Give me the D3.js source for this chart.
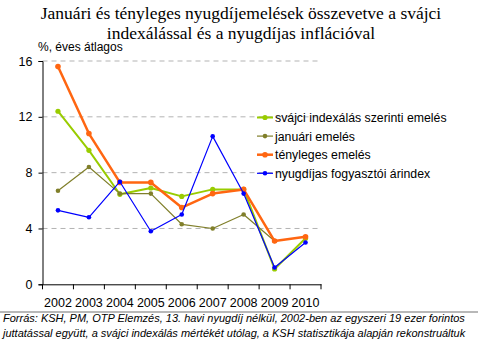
<!DOCTYPE html>
<html><head><meta charset="utf-8">
<script src="https://cdnjs.cloudflare.com/ajax/libs/d3/7.8.5/d3.min.js"></script>
<style>body{margin:0;background:#fff}svg{display:block}</style>
</head><body><svg id="c" width="478" height="355"></svg>
<script>
const years = ["2002","2003","2004","2005","2006","2007","2008","2009","2010"];
const svajci = [12.4, 9.6, 6.45, 6.9, 6.3, 6.8, 6.8, 1.1, 3.3];
const januari = [6.7, 8.4, 6.5, 6.5, 4.3, 4.0, 5.0, 3.1, null];
const tenyleges = [15.6, 10.8, 7.3, 7.3, 5.5, 6.5, 6.8, 3.1, 3.4];
const fogyasztoi = [5.3, 4.8, 7.35, 3.8, 5.0, 10.6, 6.5, 1.2, 3.0];
const yTicks = [0, 4, 8, 12, 16];
const seriesNames = ["svájci indexálás szerinti emelés","januári emelés","tényleges emelés","nyugdíjas fogyasztói árindex"];

const series = [
  {name: seriesNames[0], values: svajci, color: "#99cc00", w: 2, r: 2.6},
  {name: seriesNames[1], values: januari, color: "#807f2a", w: 1.2, r: 2.3},
  {name: seriesNames[2], values: tenyleges, color: "#ff6611", w: 2.5, r: 2.8},
  {name: seriesNames[3], values: fogyasztoi, color: "#0000ff", w: 1.2, r: 2.3}
];

const svg = d3.select("#c");
const pLeft = 42.5, pRight = 321, pTop = 61, pBottom = 284.3;
const x = d3.scaleBand().domain(years).range([pLeft, pRight]);
const y = d3.scaleLinear().domain([0, 16]).range([pBottom, pTop]);

// title
const title = svg.append("text").attr("text-anchor","middle")
  .style("font-family","'Liberation Serif','Times New Roman',serif").style("font-size","17.5px").attr("fill","#000");
title.append("tspan").attr("x",241).attr("y",19).text("Januári és tényleges nyugdíjemelések összevetve a svájci");
title.append("tspan").attr("x",241).attr("y",39).text("indexálással és a nyugdíjas inflációval");

svg.append("text").attr("x",38).attr("y",51).style("font-family","Arial,'Liberation Sans',sans-serif")
  .style("font-size","12px").text("%, éves átlagos");

// grid
svg.append("g").selectAll("line").data(yTicks.filter(d=>d>0)).join("line")
  .attr("x1", pLeft).attr("x2", pRight).attr("y1", d=>y(d)).attr("y2", d=>y(d))
  .attr("stroke","#b3b3b3").attr("stroke-dasharray","5,4").attr("stroke-width",1);

// y axis
const ya = svg.append("g").attr("transform",`translate(${pLeft},0)`)
  .call(d3.axisLeft(y).tickValues(yTicks).tickSize(4).tickFormat(d3.format("d")));
ya.select(".domain").attr("stroke","#000");
ya.selectAll("text").style("font-family","Arial,'Liberation Sans',sans-serif").style("font-size","12.5px").attr("x",-10);

// x axis
const xa = svg.append("g").attr("transform",`translate(0,${pBottom})`)
  .call(d3.axisBottom(x).tickSize(0).tickSizeOuter(0));
xa.select(".domain").attr("stroke","#000");
xa.selectAll("text").style("font-family","Arial,'Liberation Sans',sans-serif").style("font-size","12.5px").attr("y",14);
xa.selectAll(".bt").data(years.concat(["end"])).join("line")
  .attr("x1",(d,i)=> i<years.length ? x(d) : pRight).attr("x2",(d,i)=> i<years.length ? x(d) : pRight)
  .attr("y1",0).attr("y2",5).attr("stroke","#000");

const cx = d => x(d) + x.bandwidth()/2;
const line = d3.line().defined(d=>d.v!=null).x(d=>cx(d.yr)).y(d=>y(d.v));
series.forEach(s => {
  const pts = years.map((yr,i)=>({yr, v:s.values[i]}));
  svg.append("path").datum(pts).attr("d", line).attr("fill","none")
    .attr("stroke", s.color).attr("stroke-width", s.w).attr("stroke-linejoin","round");
  svg.append("g").selectAll("circle").data(pts.filter(d=>d.v!=null)).join("circle")
    .attr("cx", d=>cx(d.yr)).attr("cy", d=>y(d.v)).attr("r", s.r).attr("fill", s.color);
});

// legend
const lg = svg.append("g");
series.forEach((s,i) => {
  const ly = 117.5 + i*18.6;
  lg.append("line").attr("x1",257).attr("x2",273).attr("y1",ly).attr("y2",ly)
    .attr("stroke",s.color).attr("stroke-width", s.w);
  lg.append("circle").attr("cx",265).attr("cy",ly).attr("r",s.r).attr("fill",s.color);
  lg.append("text").attr("x",275).attr("y",ly+4.5).style("font-family","Arial,'Liberation Sans',sans-serif")
    .style("font-size","12.3px").text(s.name);
});

// separator
svg.append("line").attr("x1",0).attr("x2",478).attr("y1",312).attr("y2",312).attr("stroke","#a0a0a0").attr("stroke-width",1.5);

const fn = svg.append("text").style("font-family","Arial,'Liberation Sans',sans-serif").style("font-size","11px").style("font-style","italic");
fn.append("tspan").attr("x",3).attr("y",322).text("Forrás: KSH, PM, OTP Elemzés, 13. havi nyugdíj nélkül, 2002-ben az egyszeri 19 ezer forintos");
fn.append("tspan").attr("x",3).attr("y",337).text("juttatással együtt, a svájci indexálás mértékét utólag, a KSH statisztikája alapján rekonstruáltuk");
</script></body></html>
